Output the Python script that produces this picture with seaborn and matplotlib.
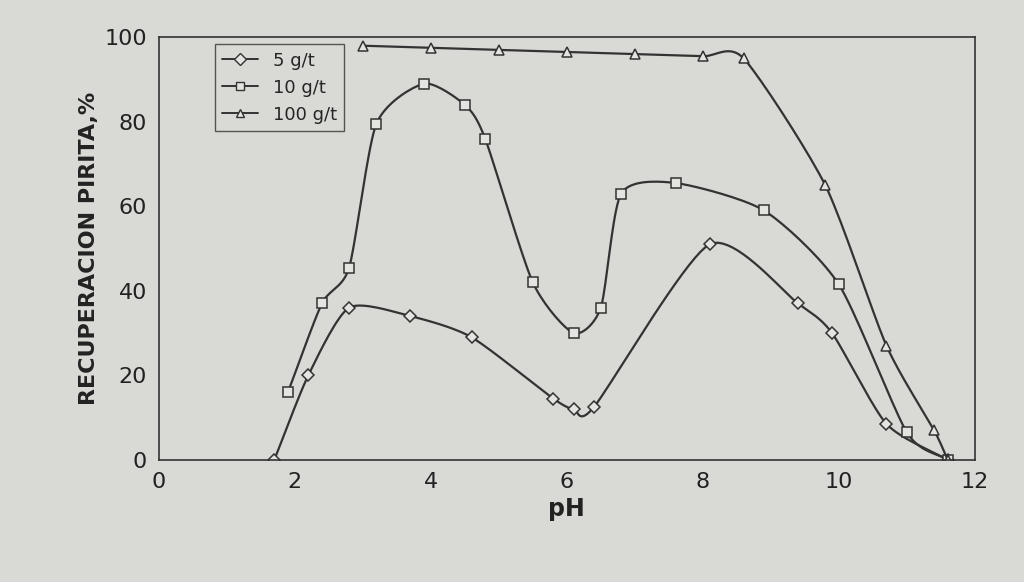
import numpy as np
import pandas as pd
import matplotlib
matplotlib.use('Agg')
import matplotlib.pyplot as plt
import seaborn as sns

# values
ph_5 = [1.7, 2.2, 2.8, 3.7, 4.6, 5.8, 6.1, 6.4, 8.1, 9.4, 9.9, 10.7, 11.6]
rec_5 = [0, 20, 36, 34, 29, 14.5, 12, 12.5, 51, 37, 30, 8.5, 0]
ph_10 = [1.9, 2.4, 2.8, 3.2, 3.9, 4.5, 4.8, 5.5, 6.1, 6.5, 6.8, 7.6, 8.9, 10.0, 11.0, 11.6]
rec_10 = [16, 37, 45.5, 79.5, 89, 84, 76, 42, 30, 36, 63, 65.5, 59, 41.5, 6.5, 0]
ph_100 = [3.0, 4.0, 5.0, 6.0, 7.0, 8.0, 8.6, 9.8, 10.7, 11.4, 11.6]
rec_100 = [98, 97.5, 97, 96.5, 96, 95.5, 95, 65, 27, 7, 0]
labels = ['5 g/t', '10 g/t', '100 g/t']
markers = ['D', 's', '^']


def smooth(x, y, n=20, k=0.35):
    # hermite curve with damped tangents, like a spreadsheet "smoothed line"
    x = np.asarray(x, float); y = np.asarray(y, float)
    t = np.linspace(0, 1, n)
    h00 = 2*t**3 - 3*t**2 + 1; h10 = t**3 - 2*t**2 + t
    h01 = -2*t**3 + 3*t**2; h11 = t**3 - t**2
    def tang(p):
        m = np.empty_like(p)
        m[1:-1] = k*(p[2:] - p[:-2])
        m[0] = 2*k*(p[1] - p[0]); m[-1] = 2*k*(p[-1] - p[-2])
        return m
    mx, my = tang(x), tang(y)
    xs, ys = [], []
    for i in range(len(x) - 1):
        xs.extend(h00*x[i] + h10*mx[i] + h01*x[i+1] + h11*mx[i+1])
        ys.extend(h00*y[i] + h10*my[i] + h01*y[i+1] + h11*my[i+1])
    return xs, ys


sns.set_style('white')
fig, ax = plt.subplots(figsize=(10.24, 5.82), dpi=100)
fig.patch.set_facecolor('#d9d9d5')
ax.set_facecolor('#d9d9d5')

series = [(ph_5, rec_5), (ph_10, rec_10), (ph_100, rec_100)]
for (x, y), lab, m in zip(series, labels, markers):
    sx, sy = smooth(x, y)
    sns.lineplot(x=sx, y=sy, ax=ax, color='#333333', lw=1.6, sort=False)
    ax.plot(x, y, linestyle='none', marker=m, ms=7 if m != 'D' else 6,
            mfc='#e4e4e0', mec='#333333', mew=1.1)
    ax.plot([], [], color='#333333', lw=1.4, marker=m, mfc='#e4e4e0', mec='#333333', label=lab)

ax.set_xlim(0, 12)
ax.set_ylim(0, 100)
ax.set_xticks(range(0, 13, 2))
ax.set_yticks(range(0, 101, 20))
ax.tick_params(labelsize=16, colors='#222222', direction='out', length=5)
ax.set_xlabel('pH', fontsize=17, fontweight='bold', color='#222222')
ax.set_ylabel('RECUPERACION PIRITA,%', fontsize=16, fontweight='bold', color='#222222')
for s in ax.spines.values():
    s.set_color('#333333')
    s.set_linewidth(1.2)
leg = ax.legend(loc='upper left', bbox_to_anchor=(0.06, 1.0), fontsize=13, frameon=True,
                fancybox=False, edgecolor='#333333', facecolor='#d9d9d5', handlelength=2,
                borderaxespad=0.4)
leg.get_frame().set_linewidth(1.0)
plt.subplots_adjust(left=0.155, right=0.952, top=0.936, bottom=0.21)
fig.savefig('out.png', dpi=100)
